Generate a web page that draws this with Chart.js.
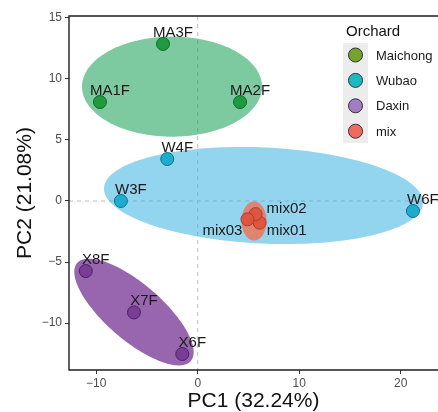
<!DOCTYPE html>
<html><head><meta charset="utf-8">
<script src="https://cdn.jsdelivr.net/npm/chart.js@4.4.0/dist/chart.umd.min.js"></script>
<style>html,body{margin:0;padding:0;background:#fff;overflow:hidden}#wrap{width:438px;height:412px}</style>
</head><body><div id="wrap"><canvas id="c" width="438" height="412"></canvas></div>
<script>
// ---- data ----
const orchards = ['Maichong', 'Wubao', 'Daxin', 'mix'];

const maichongNames = ['MA1F', 'MA2F', 'MA3F'];
const maichongPC1 = [-9.63, 4.17, -3.42];
const maichongPC2 = [8.11, 8.11, 12.87];

const wubaoNames = ['W3F', 'W4F', 'W6F'];
const wubaoPC1 = [-7.57, -3.0, 21.2];
const wubaoPC2 = [0.0, 3.44, -0.82];

const daxinNames = ['X6F', 'X7F', 'X8F'];
const daxinPC1 = [-1.52, -6.28, -11.03];
const daxinPC2 = [-12.54, -9.13, -5.74];

const mixNames = ['mix01', 'mix02', 'mix03'];
const mixPC1 = [6.1, 5.7, 4.9];
const mixPC2 = [-1.78, -1.07, -1.5];

// confidence ellipses (data units): centre and two conjugate semi-axes
const ellipseCenterPC1 = [-2.53, 6.48, -6.28, 5.55];
const ellipseCenterPC2 = [9.37, 0.45, -9.10, -1.64];
const ellipseAxis1PC1 = [8.87, 15.71, 5.6, 1.23];
const ellipseAxis1PC2 = [0.0, -0.61, -4.01, 0.0];
const ellipseAxis2PC1 = [0.0, -0.22, -1.79, 0.0];
const ellipseAxis2PC2 = [4.10, -3.93, -1.75, 1.60];

const xTicks = [-10, 0, 10, 20];
const yTicks = [-10, -5, 0, 5, 10, 15];
const xTitle = 'PC1 (32.24%)';
const yTitle = 'PC2 (21.08%)';
const legendTitle = 'Orchard';

// ---- styles ----
const FONT = "'Liberation Sans', Arial, sans-serif";
const pointFill = ['#1f9a3e', '#1badcf', '#7a3d96', '#e0553f'];
const pointBorder = ['#10692a', '#126f8a', '#4a2060', '#a8402f'];
const legendFill = ['#74a22a', '#1cb9c3', '#a27dc1', '#ee6c5f'];
const ellipseFill = ['rgba(19,159,84,0.55)', 'rgba(59,177,226,0.55)', 'rgba(118,51,147,0.75)', 'rgba(240,118,92,0.85)'];
const labelNudge = { mix02: {dx: 11, dy: -1, align: 'left'}, mix01: {dx: 7, dy: 12, align: 'left'}, mix03: {dx: -5, dy: 16, align: 'right'} };

const groups = [
  [maichongNames, maichongPC1, maichongPC2],
  [wubaoNames, wubaoPC1, wubaoPC2],
  [daxinNames, daxinPC1, daxinPC2],
  [mixNames, mixPC1, mixPC2]
];

const datasets = groups.map((g, i) => ({
  label: orchards[i],
  data: g[0].map((n, k) => ({x: g[1][k], y: g[2][k], name: n})),
  backgroundColor: pointFill[i],
  borderColor: pointBorder[i],
  borderWidth: 1,
  pointRadius: 6.5,
  pointHoverRadius: 6.5
}));

const fmt = v => (v < 0 ? '\u2212' + Math.abs(v) : String(v));

const ellipsePlugin = {
  id: 'ellipses',
  beforeDatasetsDraw(chart) {
    const {ctx, chartArea: a, scales: {x, y}} = chart;
    ctx.save();
    ctx.beginPath();
    ctx.rect(a.left, a.top, a.right - a.left, a.bottom - a.top);
    ctx.clip();
    // zero reference lines
    ctx.strokeStyle = '#bdbdbd';
    ctx.lineWidth = 1;
    ctx.setLineDash([4, 4]);
    const x0 = x.getPixelForValue(0), y0 = y.getPixelForValue(0);
    ctx.beginPath();
    ctx.moveTo(x0, a.top); ctx.lineTo(x0, a.bottom);
    ctx.moveTo(a.left, y0); ctx.lineTo(a.right, y0);
    ctx.stroke();
    ctx.setLineDash([]);
    orchards.forEach((o, i) => {
      const cx = x.getPixelForValue(ellipseCenterPC1[i]);
      const cy = y.getPixelForValue(ellipseCenterPC2[i]);
      const ux = x.getPixelForValue(ellipseCenterPC1[i] + ellipseAxis1PC1[i]) - cx;
      const uy = y.getPixelForValue(ellipseCenterPC2[i] + ellipseAxis1PC2[i]) - cy;
      const vx = x.getPixelForValue(ellipseCenterPC1[i] + ellipseAxis2PC1[i]) - cx;
      const vy = y.getPixelForValue(ellipseCenterPC2[i] + ellipseAxis2PC2[i]) - cy;
      ctx.beginPath();
      const N = 160;
      for (let k = 0; k <= N; k++) {
        const t = k / N * Math.PI * 2;
        const px = cx + ux * Math.cos(t) + vx * Math.sin(t);
        const py = cy + uy * Math.cos(t) + vy * Math.sin(t);
        if (k === 0) ctx.moveTo(px, py); else ctx.lineTo(px, py);
      }
      ctx.closePath();
      ctx.fillStyle = ellipseFill[i];
      ctx.fill();
    });
    ctx.restore();
  },
  afterDatasetsDraw(chart) {
    const {ctx, chartArea: a} = chart;
    ctx.save();
    // point labels
    ctx.font = '15px ' + FONT;
    ctx.fillStyle = '#1a1a1a';
    ctx.textBaseline = 'alphabetic';
    chart.data.datasets.forEach((ds, di) => {
      const meta = chart.getDatasetMeta(di);
      meta.data.forEach((el, k) => {
        const name = ds.data[k].name;
        const nud = labelNudge[name];
        if (nud) {
          ctx.textAlign = nud.align;
          ctx.fillText(name, el.x + nud.dx, el.y + nud.dy);
        } else {
          ctx.textAlign = 'center';
          ctx.fillText(name, el.x + 10, el.y - 7);
        }
      });
    });
    // panel border (top, left, bottom)
    ctx.strokeStyle = '#1e1e1e';
    ctx.lineWidth = 1.4;
    ctx.beginPath();
    ctx.moveTo(a.right + 2, a.top);
    ctx.lineTo(a.left, a.top);
    ctx.lineTo(a.left, a.bottom);
    ctx.lineTo(a.right + 2, a.bottom);
    ctx.stroke();
    // legend
    ctx.textAlign = 'left';
    ctx.textBaseline = 'middle';
    ctx.font = '15px ' + FONT;
    ctx.fillStyle = '#111';
    ctx.fillText(legendTitle, 346, 32);
    ctx.fillStyle = '#ececec';
    ctx.fillRect(343, 43, 25, 100);
    orchards.forEach((o, i) => {
      const cy = 55 + i * 25.4;
      ctx.beginPath();
      ctx.arc(355.5, cy, 7, 0, Math.PI * 2);
      ctx.fillStyle = legendFill[i];
      ctx.fill();
      ctx.lineWidth = 1;
      ctx.strokeStyle = '#333';
      ctx.stroke();
      ctx.fillStyle = '#1a1a1a';
      ctx.font = '13px ' + FONT;
      ctx.fillText(o, 376, cy + 1);
    });
    ctx.restore();
  }
};

new Chart(document.getElementById('c'), {
  type: 'scatter',
  data: {datasets},
  options: {
    responsive: false,
    animation: false,
    devicePixelRatio: 1,
    layout: {autoPadding: false, padding: {top: 16, right: 0, left: 0, bottom: 0}},
    plugins: {legend: {display: false}, tooltip: {enabled: false}},
    scales: {
      x: {
        type: 'linear',
        min: -12.68, max: 23.67,
        afterBuildTicks: s => { s.ticks = xTicks.map(v => ({value: v})); },
        afterFit: s => { s.height = 42; s.paddingLeft = 0; s.paddingRight = 0; },
        grid: {display: true, drawOnChartArea: false, drawTicks: true, tickLength: 4, color: '#333', lineWidth: 1},
        border: {display: false},
        ticks: {color: '#4d4d4d', font: {family: FONT, size: 12}, padding: 2, callback: v => fmt(v), maxRotation: 0},
        title: {display: true, text: xTitle, color: '#111', font: {family: FONT, size: 21}, padding: {top: 0, bottom: -2}}
      },
      y: {
        type: 'linear',
        min: -13.85, max: 15.16,
        afterBuildTicks: s => { s.ticks = yTicks.map(v => ({value: v})); },
        afterFit: s => { s.width = 69; s.paddingTop = 0; s.paddingBottom = 0; },
        grid: {display: true, drawOnChartArea: false, drawTicks: true, tickLength: 4, color: '#333', lineWidth: 1},
        border: {display: false},
        ticks: {color: '#4d4d4d', font: {family: FONT, size: 12}, padding: 3, callback: v => fmt(v)},
        title: {display: true, text: yTitle, color: '#111', font: {family: FONT, size: 21}, padding: {top: 12.4, bottom: 0}}
      }
    }
  },
  plugins: [ellipsePlugin]
});
</script>
</body></html>
